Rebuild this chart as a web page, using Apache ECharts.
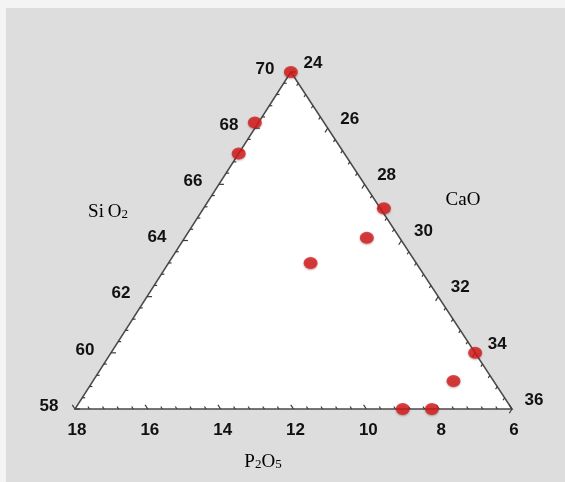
<!DOCTYPE html>
<html>
<head>
<meta charset="utf-8">
<script src="https://cdn.jsdelivr.net/npm/echarts@6/dist/echarts.min.js"></script>
<style>
  html, body { margin: 0; padding: 0; background: #f4f4f4; }
  #chart { width: 565px; height: 482px; }
</style>
</head>
<body>
<div id="chart"></div>
<script>
// Sample compositions (wt %), one entry per analysed sample
const SIO2 = [70.0, 68.2, 67.1, 65.15, 64.1, 63.2, 60.0, 59.0, 58.0, 58.0];
const CAO  = [24.0, 23.9, 24.0, 28.95, 29.0, 27.9, 34.0, 33.9, 33.0, 33.8];
const P2O5 = [ 6.0,  7.9,  8.9,  5.9,  6.9,  8.9,  6.0,  7.1,  9.0,  8.2];

// Tick labels of the three triangle sides
const SIO2_TICKS = [58, 60, 62, 64, 66, 68, 70];
const CAO_TICKS  = [24, 26, 28, 30, 32, 34, 36];
const P2O5_TICKS = [18, 16, 14, 12, 10, 8, 6];

// Sub-ternary window: each component spans 12 % from its minimum
const SIO2_MIN = 58, CAO_MIN = 24, P2O5_MIN = 6, SPAN = 12;
const APEX_X = 0.494;   // horizontal position of the SiO2 apex on the base

// ternary -> cartesian (x along the base, y towards the SiO2 apex)
function toXY(s, c, p) {
  let a = (s - SIO2_MIN) / SPAN;
  let cc = (c - CAO_MIN) / SPAN;
  let b = (p - P2O5_MIN) / SPAN;
  const sum = a + b + cc;
  a /= sum; cc /= sum;
  return [a * APEX_X + cc, a];
}

// point on a side for a given axis value
function sidePoint(axis, v) {
  if (axis === 0) {            // SiO2, left side (CaO at minimum)
    const a = (v - SIO2_MIN) / SPAN;
    return [a * APEX_X, a];
  } else if (axis === 1) {     // CaO, right side (P2O5 at minimum)
    const c = (v - CAO_MIN) / SPAN;
    const a = 1 - c;
    return [a * APEX_X + c, a];
  }
  const b = (v - P2O5_MIN) / SPAN; // P2O5, base (SiO2 at minimum)
  return [1 - b, 0];
}

const points = SIO2.map((s, i) => toXY(s, CAO[i], P2O5[i]));

// tick marks: a minor one every 0.4 %, a major one every 2 %
const tickData = [];
[[0, SIO2_MIN], [1, CAO_MIN], [2, P2O5_MIN]].forEach(([ax, lo]) => {
  for (let k = 0; k <= 30; k++) {
    tickData.push([ax, lo + k * 0.4, k % 5 === 0 ? 1 : 0]);
  }
});

const labelData = [];
SIO2_TICKS.forEach(v => labelData.push([0, v]));
CAO_TICKS.forEach(v => labelData.push([1, v]));
P2O5_TICKS.forEach(v => labelData.push([2, v]));

const chart = echarts.init(document.getElementById('chart'), null, { renderer: 'canvas' });

const LABEL_FONT = 'bold 17px "Liberation Sans", Arial, sans-serif';
const labelOffset = [[-26, -3], [22, -9], [2, 21]];

const SERIF = '"Liberation Serif", "Times New Roman", serif';
const titleRich = {
  n: { fontFamily: SERIF, fontSize: 19, color: '#2a2a2a' },
  s: { fontFamily: SERIF, fontSize: 13, color: '#2a2a2a', padding: [5, 0, 0, 0] }
};

chart.setOption({
  backgroundColor: '#f4f4f4',
  animation: false,
  graphic: [
    { type: 'rect', shape: { x: 6, y: 8, width: 559, height: 474 }, style: { fill: '#dddddd' }, z: -10 },
    { type: 'text', x: 108, y: 212, style: { text: '{n|Si\u2009O}{s|2}', rich: titleRich, align: 'center', verticalAlign: 'middle' } },
    { type: 'text', x: 463, y: 200, style: { text: '{n|CaO}', rich: titleRich, align: 'center', verticalAlign: 'middle' } },
    { type: 'text', x: 263, y: 462, style: { text: '{n|P}{s|2}{n|O}{s|5}', rich: titleRich, align: 'center', verticalAlign: 'middle' } }
  ],
  grid: { left: 75, top: 72, width: 437, height: 337 },
  xAxis: { type: 'value', min: 0, max: 1, show: false },
  yAxis: { type: 'value', min: 0, max: 1, show: false },
  series: [
    {
      // triangle body
      type: 'custom',
      data: [[0, 0]],
      clip: false,
      z: 1,
      silent: true,
      renderItem: function (params, api) {
        const t = api.coord([APEX_X, 1]);
        const l = api.coord([0, 0]);
        const r = api.coord([1, 0]);
        return {
          type: 'polygon',
          shape: { points: [t, l, r] },
          style: { fill: '#ffffff', stroke: '#4a4a4a', lineWidth: 1.5 }
        };
      }
    },
    {
      // tick marks
      type: 'custom',
      data: tickData,
      clip: false,
      z: 2,
      silent: true,
      renderItem: function (params, api) {
        const ax = api.value(0), v = api.value(1), major = api.value(2);
        const p = api.coord(sidePoint(ax, v));
        const t = api.coord([APEX_X, 1]);
        const l = api.coord([0, 0]);
        const r = api.coord([1, 0]);
        let d;
        if (ax === 0) d = [1, 0];
        else if (ax === 1) d = [l[0] - t[0], l[1] - t[1]];
        else d = [t[0] - r[0], t[1] - r[1]];
        const n = Math.hypot(d[0], d[1]);
        const len = major ? 5 : 3;
        return {
          type: 'line',
          shape: { x1: p[0], y1: p[1], x2: p[0] + d[0] / n * len, y2: p[1] + d[1] / n * len },
          style: { stroke: '#3a3a3a', lineWidth: 1.2 }
        };
      }
    },
    {
      // tick labels
      type: 'custom',
      data: labelData,
      clip: false,
      z: 3,
      silent: true,
      renderItem: function (params, api) {
        const ax = api.value(0), v = api.value(1);
        const p = api.coord(sidePoint(ax, v));
        const off = labelOffset[ax];
        return {
          type: 'text',
          x: p[0] + off[0],
          y: p[1] + off[1],
          style: {
            text: String(v),
            font: LABEL_FONT,
            fill: '#111111',
            align: 'center',
            verticalAlign: 'middle'
          }
        };
      }
    },
    {
      type: 'scatter',
      data: points,
      symbol: 'circle',
      symbolSize: [14, 12],
      clip: false,
      z: 5,
      itemStyle: {
        color: '#d61c1c',
        shadowColor: 'rgba(90, 0, 0, 0.45)',
        shadowBlur: 2,
        shadowOffsetY: 1
      }
    }
  ]
});
</script>
</body>
</html>
